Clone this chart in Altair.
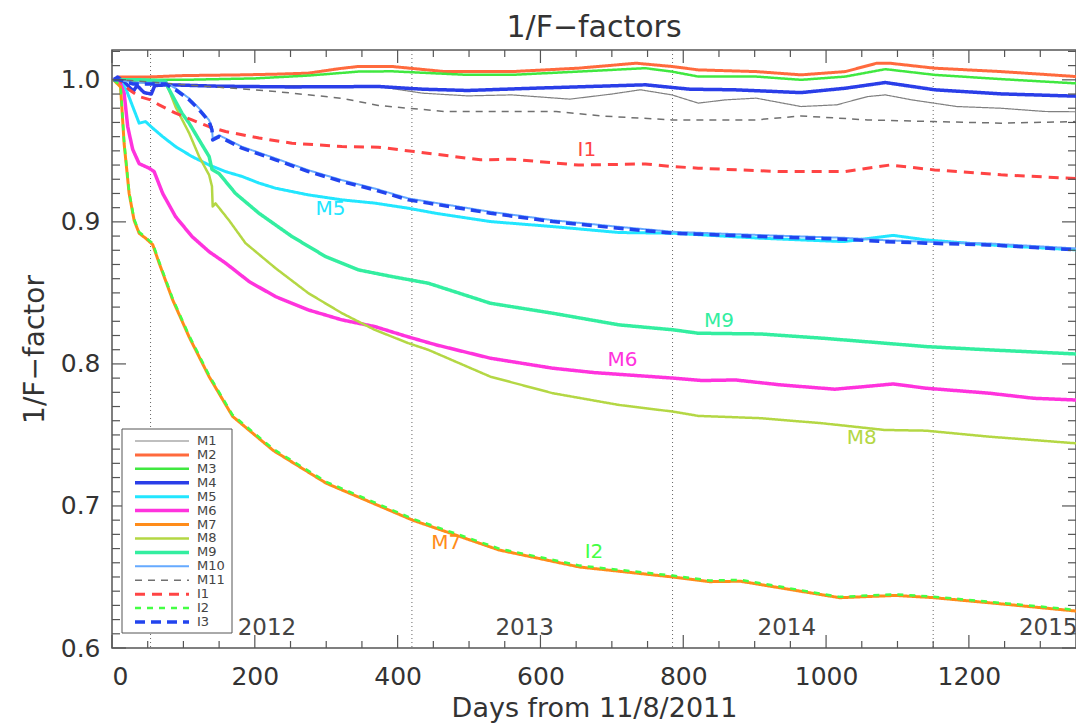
import altair as alt
import pandas as pd

# ---------------- data ----------------
series = ["M1", "M2", "M3", "M4", "M5", "M6", "M7", "M8", "M9", "M10", "M11", "I1", "I2", "I3"]
colors = ["#808080", "#ff6a3d", "#40e840", "#2a3ee8", "#22e6ff", "#ff33dd", "#ff8c1a",
          "#b4d744", "#33eea0", "#66aaff", "#707070", "#ff4444", "#44ff44", "#2244ee"]
dashes = [[1, 0], [1, 0], [1, 0], [1, 0], [1, 0], [1, 0], [1, 0], [1, 0], [1, 0], [1, 0],
          [7, 6], [10, 7], [6, 6], [10, 6]]
widths = [1.2, 3, 2.5, 3.5, 3, 3.5, 3, 2.5, 3.5, 2, 1.5, 3, 2.5, 3.5]

M1_day = [2, 10, 20, 40, 60, 100, 150, 200, 250, 300, 373, 435, 498, 560, 641, 700, 740, 784, 821, 859, 902, 965, 1015, 1058, 1083, 1120, 1183, 1245, 1307, 1350]
M1_val = [1.0, 1.002, 1.0, 0.998, 0.997, 0.996, 0.996, 0.996, 0.996, 0.996, 0.9953, 0.9906, 0.9887, 0.9894, 0.9864, 0.990, 0.993, 0.9894, 0.9836, 0.9859, 0.9871, 0.9812, 0.9824, 0.9882, 0.9894, 0.9859, 0.9812, 0.980, 0.9777, 0.9775]

M2_day = [2, 10, 50, 100, 182, 230, 275, 320, 345, 392, 466, 560, 653, 734, 784, 821, 902, 965, 1027, 1071, 1089, 1152, 1245, 1300, 1350]
M2_val = [1.0, 1.002, 1.002, 1.003, 1.0035, 1.004, 1.0047, 1.008, 1.0094, 1.0094, 1.0058, 1.0058, 1.0082, 1.0117, 1.0094, 1.007, 1.0058, 1.0035, 1.0058, 1.0117, 1.0117, 1.0082, 1.0058, 1.004, 1.0023]

M3_day = [2, 10, 50, 100, 200, 275, 345, 392, 498, 560, 653, 747, 784, 821, 902, 965, 1027, 1083, 1152, 1245, 1350]
M3_val = [1.0, 1.0, 1.0, 1.0, 1.001, 1.003, 1.0058, 1.006, 1.0035, 1.0035, 1.0058, 1.0082, 1.0058, 1.0023, 1.0023, 1.0, 1.0023, 1.0075, 1.0035, 1.0005, 0.9975]

M4_day = [2, 8, 20, 30, 35, 45, 55, 60, 80, 150, 250, 373, 435, 498, 591, 747, 809, 871, 965, 1027, 1083, 1152, 1245, 1350]
M4_val = [1.0, 1.002, 0.997, 0.992, 0.996, 0.991, 0.990, 0.996, 0.9965, 0.9955, 0.995, 0.9953, 0.9934, 0.9925, 0.9941, 0.9965, 0.9934, 0.993, 0.991, 0.9941, 0.9981, 0.993, 0.9901, 0.9885]

M5_day = [2, 10, 20, 29, 38, 47, 57, 71, 89, 112, 136, 159, 182, 206, 229, 275, 322, 368, 415, 454, 530, 617, 710, 786, 908, 1024, 1094, 1140, 1228, 1350]
M5_val = [1.0, 1.0, 0.993, 0.9812, 0.9695, 0.9706, 0.966, 0.960, 0.953, 0.946, 0.940, 0.9354, 0.932, 0.9273, 0.9237, 0.919, 0.9155, 0.9132, 0.9096, 0.906, 0.9002, 0.8967, 0.8925, 0.892, 0.8885, 0.8861, 0.8905, 0.8873, 0.8838, 0.8803]

M6_day = [2, 10, 17, 22, 29, 38, 52, 59, 71, 89, 112, 136, 159, 192, 229, 275, 322, 368, 415, 454, 530, 617, 675, 786, 826, 873, 937, 1012, 1053, 1094, 1140, 1228, 1291, 1350]
M6_val = [1.0, 1.0, 0.9906, 0.967, 0.951, 0.941, 0.9378, 0.9354, 0.920, 0.9037, 0.8897, 0.879, 0.871, 0.858, 0.8474, 0.838, 0.831, 0.8263, 0.819, 0.8134, 0.804, 0.797, 0.7939, 0.790, 0.7883, 0.7887, 0.7852, 0.7822, 0.784, 0.7859, 0.7829, 0.7794, 0.7758, 0.7746]

M7_day = [2, 12, 17, 24, 31, 38, 47, 57, 66, 85, 108, 136, 169, 226, 300, 421, 542, 655, 785, 837, 880, 1019, 1097, 1149, 1253, 1350]
M7_val = [1.0, 0.995, 0.955, 0.920, 0.901, 0.892, 0.8885, 0.884, 0.871, 0.845, 0.819, 0.791, 0.763, 0.739, 0.716, 0.690, 0.669, 0.657, 0.650, 0.6467, 0.647, 0.6354, 0.637, 0.6355, 0.6307, 0.626]

M8_day = [2, 10, 40, 73, 78, 89, 108, 122, 136, 140, 141, 145, 164, 187, 229, 275, 322, 368, 415, 443, 530, 617, 710, 786, 821, 908, 995, 1082, 1140, 1228, 1350]
M8_val = [1.0, 1.0, 1.0, 0.999, 0.9953, 0.981, 0.9625, 0.946, 0.933, 0.925, 0.9108, 0.913, 0.901, 0.885, 0.8674, 0.8498, 0.8357, 0.824, 0.8146, 0.8099, 0.791, 0.7794, 0.7711, 0.7664, 0.7634, 0.7618, 0.7582, 0.7535, 0.753, 0.7488, 0.7441]

M9_day = [2, 10, 40, 75, 78, 98, 108, 122, 136, 140, 150, 173, 206, 252, 299, 345, 392, 443, 530, 617, 710, 786, 821, 908, 995, 1082, 1140, 1228, 1350]
M9_val = [1.0, 1.0, 1.0, 0.999, 0.995, 0.9765, 0.9695, 0.9577, 0.946, 0.937, 0.934, 0.920, 0.906, 0.8897, 0.8756, 0.8662, 0.8615, 0.8568, 0.8427, 0.8357, 0.8275, 0.824, 0.8216, 0.8211, 0.8181, 0.8146, 0.8122, 0.8099, 0.807]

M10_day = [2, 10, 30, 50, 75, 89, 108, 122, 136, 140, 141, 150, 182, 229, 275, 322, 368, 415, 443, 530, 617, 710, 786, 908, 1024, 1082, 1140, 1228, 1350]
M10_val = [1.0, 1.0, 0.998, 0.998, 0.998, 0.994, 0.987, 0.980, 0.9716, 0.9658, 0.9587, 0.961, 0.9529, 0.9447, 0.9364, 0.9294, 0.9235, 0.9165, 0.9142, 0.9071, 0.9012, 0.8965, 0.893, 0.8907, 0.8888, 0.8871, 0.886, 0.8848, 0.8813]

M11_day = [2, 10, 43, 136, 229, 322, 373, 415, 466, 622, 684, 784, 902, 965, 1058, 1152, 1245, 1350]
M11_val = [1.0, 1.0, 0.9988, 0.9953, 0.9918, 0.987, 0.982, 0.980, 0.9777, 0.9777, 0.9746, 0.9718, 0.9718, 0.9746, 0.9718, 0.9706, 0.9695, 0.9706]

I1_day = [2, 10, 24, 38, 54, 66, 89, 112, 136, 159, 206, 252, 322, 373, 423, 516, 560, 653, 747, 784, 821, 934, 1027, 1089, 1152, 1245, 1350]
I1_val = [1.0, 1.0, 0.993, 0.9882, 0.9859, 0.9824, 0.9765, 0.9718, 0.967, 0.9636, 0.959, 0.9554, 0.953, 0.9526, 0.9495, 0.9437, 0.9441, 0.940, 0.9408, 0.939, 0.9378, 0.9354, 0.9354, 0.940, 0.9366, 0.9331, 0.9305]

I2_day = [2, 12, 17, 24, 31, 38, 47, 57, 66, 85, 108, 136, 169, 226, 300, 421, 542, 655, 785, 837, 880, 1019, 1097, 1149, 1253, 1350]
I2_val = [1.0, 0.996, 0.956, 0.921, 0.902, 0.893, 0.889, 0.885, 0.872, 0.846, 0.820, 0.792, 0.764, 0.740, 0.717, 0.691, 0.670, 0.658, 0.651, 0.6475, 0.648, 0.636, 0.6378, 0.6362, 0.6314, 0.6268]

I3_day = [2, 10, 30, 50, 75, 89, 108, 122, 136, 140, 141, 150, 182, 229, 275, 322, 368, 415, 443, 530, 617, 710, 786, 908, 1024, 1082, 1140, 1228, 1350]
I3_val = [1.0, 1.0, 0.997, 0.997, 0.997, 0.993, 0.986, 0.979, 0.9706, 0.9648, 0.9577, 0.960, 0.9519, 0.9437, 0.9354, 0.9284, 0.9225, 0.9155, 0.9132, 0.9061, 0.9002, 0.8955, 0.892, 0.8897, 0.8878, 0.8861, 0.885, 0.8838, 0.8803]

series_days = [M1_day, M2_day, M3_day, M4_day, M5_day, M6_day, M7_day, M8_day, M9_day, M10_day, M11_day, I1_day, I2_day, I3_day]
series_vals = [M1_val, M2_val, M3_val, M4_val, M5_val, M6_val, M7_val, M8_val, M9_val, M10_val, M11_val, I1_val, I2_val, I3_val]

# curve annotations
ann_text = ["I1", "M5", "M9", "M6", "M8", "M7", "I2"]
ann_day = [665, 306, 850, 715, 1050, 468, 675]
ann_val = [0.9507, 0.9092, 0.8303, 0.8028, 0.7479, 0.674, 0.6676]

# year boundaries and labels
year_start_days = [54, 420, 785, 1150]
year_labels = ["2012", "2013", "2014", "2015"]
year_label_days = [217, 578, 945, 1311]
year_label_val = 0.614

# axis ticks
x_major = [0, 200, 400, 600, 800, 1000, 1200]
x_minor = [d for d in range(50, 1350, 50) if d % 200]
y_major = [0.6, 0.7, 0.8, 0.9, 1.0]
y_minor = [round(0.6 + 0.01 * i, 2) for i in range(1, 43) if i % 10]

# ---------------- build ----------------
rows = []
for name, ds, vs in zip(series, series_days, series_vals):
    for d, v in zip(ds, vs):
        rows.append({"series": name, "day": d, "value": v})
df = pd.DataFrame(rows)

W, H = 964, 598
FONT = "DejaVu Sans"
TXT = "#333333"
FRAME = "#555555"
TICK = "#555555"

xs = alt.Scale(domain=[0, 1350], nice=False, zero=False)
ys = alt.Scale(domain=[0.6, 1.021], nice=False, zero=False)
color_scale = alt.Scale(domain=series, range=colors)
dash_scale = alt.Scale(domain=series, range=dashes)
width_scale = alt.Scale(type="ordinal", domain=series, range=widths)

x_axis = alt.Axis(values=x_major, format="d", title="Days from 11/8/2011", labelPadding=16,
                  titleY=60, titleBaseline="middle", labelFontSize=25, titleFontSize=27)
y_axis = alt.Axis(values=y_major, format=".1f", title="1/F\u2212factor", labelPadding=12,
                  titleX=-77, titleY=H / 2, titleAngle=270, titleAlign="center",
                  titleBaseline="middle", labelFontSize=25, titleFontSize=28)


def X(f="day"):
    return alt.X(f"{f}:Q", scale=xs, axis=x_axis)


def Y(f="value"):
    return alt.Y(f"{f}:Q", scale=ys, axis=y_axis)


year_rules = alt.Chart(pd.DataFrame({"day": year_start_days})).mark_rule(
    color="#666666", strokeWidth=1, strokeDash=[1, 3]
).encode(x=X())

lines = alt.Chart(df).mark_line(clip=True, strokeJoin="round").encode(
    x=X(), y=Y(),
    color=alt.Color("series:N", scale=color_scale, legend=None),
    strokeDash=alt.StrokeDash("series:N", scale=dash_scale, legend=None),
    strokeWidth=alt.StrokeWidth("series:N", scale=width_scale, legend=None),
)


def yticks(vals, length, side):
    x0, x1 = (0, length) if side == "left" else (W, W - length)
    return alt.Chart(pd.DataFrame({"value": vals})).mark_rule(color=TICK, strokeWidth=1.2).encode(
        y=Y(), x=alt.value(x0), x2=alt.value(x1))


def xticks(vals, length, side):
    y0, y1 = (H, H - length) if side == "bottom" else (0, length)
    return alt.Chart(pd.DataFrame({"day": vals})).mark_rule(color=TICK, strokeWidth=1.2).encode(
        x=X(), y=alt.value(y0), y2=alt.value(y1))


ticks = [
    yticks(y_major, 14, "left"), yticks(y_minor, 8, "left"),
    yticks(y_major, 14, "right"), yticks(y_minor, 8, "right"),
    xticks(x_major, 13, "bottom"), xticks(x_minor, 7, "bottom"),
    xticks(x_major, 13, "top"), xticks(x_minor, 7, "top"),
]

ann = alt.Chart(pd.DataFrame({"series": ann_text, "day": ann_day, "value": ann_val})).mark_text(
    fontSize=20, font=FONT, align="center", baseline="middle"
).encode(x=X(), y=Y(), text="series:N",
         color=alt.Color("series:N", scale=color_scale, legend=None))

years = alt.Chart(pd.DataFrame({"label": year_labels, "day": year_label_days,
                                "value": [year_label_val] * len(year_labels)})).mark_text(
    fontSize=23, font=FONT, color="#444444", align="center", baseline="middle"
).encode(x=X(), y=Y(), text="label:N")

main = alt.layer(year_rules, lines, *ticks, ann, years)

# legend built from the same series lists and scales
leg_df = pd.DataFrame({"series": series})
ly = alt.Y("series:N", scale=alt.Scale(type="point", domain=series, range=[391, 572], padding=0),
           axis=None)
leg_box = alt.Chart(alt.Data(values=[{"a": 1}])).mark_rect(
    fill="white", stroke=FRAME, strokeWidth=1
).encode(x=alt.value(10), x2=alt.value(120), y=alt.value(379), y2=alt.value(583))
leg_lines = alt.Chart(leg_df).mark_rule().encode(
    y=ly, x=alt.value(23), x2=alt.value(77),
    color=alt.Color("series:N", scale=color_scale, legend=None),
    strokeDash=alt.StrokeDash("series:N", scale=dash_scale, legend=None),
    strokeWidth=alt.StrokeWidth("series:N", scale=width_scale, legend=None),
)
leg_text = alt.Chart(leg_df).mark_text(
    align="left", baseline="middle", fontSize=13, font=FONT, color="#444444"
).encode(y=ly, x=alt.value(85), text="series:N")
legend = alt.layer(leg_box, leg_lines, leg_text)

chart = alt.layer(main, legend).resolve_scale(y="independent").properties(
    width=W, height=H,
    autosize=alt.AutoSizeParams(type="none"),
    padding={"left": 104, "top": 42, "right": 0, "bottom": 76},
    title=alt.TitleParams("1/F\u2212factors", anchor="middle", offset=6),
).configure_view(stroke=FRAME, strokeWidth=1.5).configure_axis(
    grid=False, domain=False, ticks=False, labelFont=FONT, titleFont=FONT,
    labelColor=TXT, titleColor=TXT, titleFontWeight="normal",
).configure_title(font=FONT, fontSize=30, fontWeight="normal", color=TXT)

chart.save("out.html", embed_options={"renderer": "svg", "actions": False})
